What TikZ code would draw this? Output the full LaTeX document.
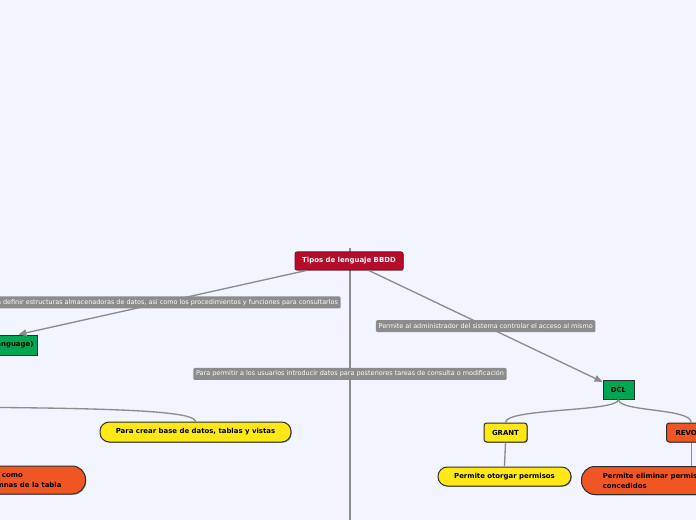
\documentclass[tikz,border=0pt]{standalone}
\usepackage{fontspec}
\setmainfont{DejaVu Sans}
\usetikzlibrary{arrows.meta,positioning,shadows}
\definecolor{canvas}{RGB}{242,245,255}
\definecolor{rootred}{RGB}{181,12,42}
\definecolor{mmgreen}{RGB}{0,166,81}
\definecolor{mmyellow}{RGB}{255,232,22}
\definecolor{mmorange}{RGB}{240,86,36}
\definecolor{linegray}{RGB}{140,140,140}
\definecolor{edgedark}{RGB}{45,45,45}

\begin{document}
\begin{tikzpicture}[x=0.75pt,y=-0.75pt,>={Triangle[length=6pt,width=5pt]},
  box/.style={draw=edgedark,line width=0.75pt,inner sep=0pt,align=center,
    font=\bfseries\fontsize{5.2}{7.5}\selectfont,
    drop shadow={shadow xshift=0.6pt,shadow yshift=-0.6pt,fill=black,opacity=0.35}},
  pill/.style={box,rounded corners=7pt},
  lbl/.style={fill=linegray,text=white,rounded corners=1pt,inner xsep=2pt,inner ysep=0pt,
    minimum height=9pt,font=\fontsize{4.85}{6}\selectfont},
  conn/.style={draw=linegray,line width=1pt}]
\useasboundingbox (0,0) rectangle (696,520);
\clip (0,0) rectangle (696,520);
\fill[canvas] (0,0) rectangle (696,520);

% trunk down to the off-canvas branch
\coordinate (up) at (350,248);
\coordinate (dml) at (350,640);
\draw[conn] (up) -- node[lbl,pos=0.3214] {Para permitir a los usuarios introducir datos para posteriores tareas de consulta o modificación} (dml);

% root
\node[box,draw=rootred!80!black,fill=rootred,text=white,rounded corners=1.5pt,
  minimum width=81pt,minimum height=13.5pt] (root) at (349,261) {Tipos de lenguaje BBDD};

% left branch
\node[box,fill=mmgreen,anchor=east,inner xsep=3pt,minimum height=15pt] (ddl) at (38,345) {DDL (Data Definition Language)};
\coordinate (create) at (-60,407);
\node[pill,fill=mmyellow,minimum width=143.25pt,minimum height=15pt] (crear) at (195.5,432) {Para crear base de datos, tablas y vistas};
\node[pill,fill=mmorange,rounded corners=10pt,anchor=east,align=left,inner xsep=18pt,minimum height=21pt] (alter) at (86,480) {tales como\\columnas de la tabla};

% right branch
\node[box,fill=mmgreen,minimum width=23.25pt,minimum height=14.25pt] (dcl) at (618.5,389.5) {DCL};
\node[box,fill=mmyellow,rounded corners=2pt,minimum width=32.25pt,minimum height=14.25pt] (grant) at (505.5,432.5) {GRANT};
\node[box,fill=mmorange,rounded corners=2pt,anchor=west,inner xsep=6.75pt,minimum height=14.25pt] (revoke) at (666,432.5) {REVOKE};
\node[pill,fill=mmyellow,minimum width=99.75pt,minimum height=14.25pt] (otorgar) at (504.5,476.5) {Permite otorgar permisos};
\node[pill,fill=mmorange,rounded corners=10pt,anchor=west,align=left,inner xsep=16pt,minimum height=21pt] (eliminar) at (581,480.5) {Permite eliminar permisos\\concedidos};

% connectors
\draw[conn,->] (root) -- node[lbl] {Para definir estructuras almacenadoras de datos, así como los procedimientos y funciones para consultarlos} (ddl);
\draw[conn,->] (root) -- node[lbl] {Permite al administrador del sistema controlar el acceso al mismo} (dcl);
\draw[conn] (create) .. controls (100,408) and (195,410) .. (crear.north);
\draw[conn] (dcl.south) .. controls (618.5,412) and (505.5,408) .. (grant.north);
\draw[conn] (dcl.south) .. controls (618.5,412) and (revoke.north |- 0,408) .. (revoke.north);
\draw[conn] (grant.south) -- (otorgar.north);
\draw[conn] (revoke.south) -- (revoke.south |- eliminar.north);
\end{tikzpicture}
\end{document}
